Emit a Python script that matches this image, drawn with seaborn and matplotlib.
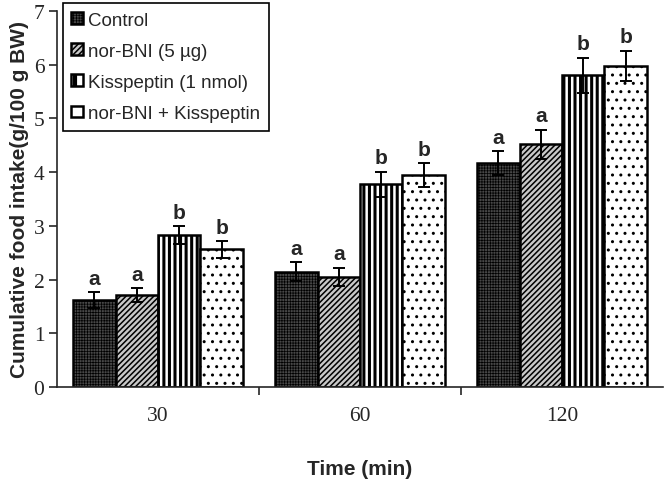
import matplotlib
matplotlib.use("Agg")
import matplotlib.pyplot as plt
import seaborn as sns
import pandas as pd
import numpy as np

times = ["30", "60", "120"]
groups = ["Control", "nor-BNI (5 µg)", "Kisspeptin (1 nmol)", "nor-BNI + Kisspeptin"]
control = [1.62, 2.15, 4.17]
norbni = [1.71, 2.05, 4.52]
kiss = [2.83, 3.77, 5.80]
combo = [2.56, 3.95, 5.98]
err_control = [0.15, 0.18, 0.22]
err_norbni = [0.13, 0.17, 0.27]
err_kiss = [0.17, 0.24, 0.33]
err_combo = [0.16, 0.22, 0.28]
letters_control = ["a", "a", "a"]
letters_norbni = ["a", "a", "a"]
letters_kiss = ["b", "b", "b"]
letters_combo = ["b", "b", "b"]

vals = [control, norbni, kiss, combo]
errs = [err_control, err_norbni, err_kiss, err_combo]
letters = [letters_control, letters_norbni, letters_kiss, letters_combo]

rows = []
for g, v in zip(groups, vals):
    for t, x in zip(times, v):
        rows.append({"Time": t, "Group": g, "Value": x})
df = pd.DataFrame(rows)

sns.set_style("ticks")
plt.rcParams["hatch.linewidth"] = 0.8

fig = plt.figure(figsize=(6.66, 4.81), dpi=100)
ax = fig.add_axes([57/666, 1 - 388/481, 606/666, 376/481])

sns.barplot(data=df, x="Time", y="Value", hue="Group", order=times, hue_order=groups,
            errorbar=None, width=0.84, gap=0, ax=ax, palette=["#404040", "#ffffff", "#ffffff", "#ffffff"],
            edgecolor="black", linewidth=1.8, saturation=1)

styles = [
    dict(face="#474747", hatch="++++++", hc="#6c6c6c", hl=0.5),
    dict(face="#c8c8c8", hatch="//////", hc="#222222", hl=1.1),
    dict(face="#ffffff", hatch="|||", hc="#000000", hl=2.2),
    dict(face="#ffffff", hatch="..", hc="#222222", hl=1.0),
]


def styled(p, st):
    p.set_facecolor(st["face"])
    p.set_hatch(st["hatch"])
    if hasattr(p, "set_hatchcolor"):
        p.set_hatchcolor(st["hc"])
    if hasattr(p, "set_hatch_linewidth"):
        p.set_hatch_linewidth(st["hl"])
    p.set_edgecolor("black")
    orig = p.draw

    def draw(renderer, orig=orig, lw=st["hl"]):
        with plt.rc_context({"hatch.linewidth": lw}):
            orig(renderer)
    p.draw = draw


bar_containers = list(ax.containers)
for ci, cont in enumerate(bar_containers):
    st = styles[ci]
    for j, p in enumerate(cont.patches):
        styled(p, st)
        cx = p.get_x() + p.get_width() / 2
        h = p.get_height()
        e = errs[ci][j]
        ax.errorbar(cx, h, yerr=e, fmt="none", ecolor="black", elinewidth=1.4, capsize=4.5, capthick=1.4, zorder=5)
        ax.text(cx, h + e + 0.08, letters[ci][j], ha="center", va="bottom",
                fontsize=15, fontweight="bold", family="Liberation Sans")

ax.set_ylim(0, 7)
ax.set_xlim(-0.5, 2.5)
ax.set_yticks(range(0, 8))
ax.tick_params(axis="y", labelsize=15.5, length=6, width=1.2, direction="out", pad=3)
ax.tick_params(axis="x", which="major", length=0, labelsize=15.5, pad=14)
ax.set_xticks([0.5, 1.5], minor=True)
ax.tick_params(axis="x", which="minor", length=6, width=1.2, direction="out")
for lab in ax.get_yticklabels() + ax.get_xticklabels():
    lab.set_family("Liberation Serif")

ax.spines["top"].set_visible(False)
ax.spines["right"].set_visible(False)
ax.spines["left"].set_linewidth(1.2)
ax.spines["bottom"].set_linewidth(1.2)

ax.set_xlabel("Time (min)", fontsize=15, fontweight="bold", family="Liberation Sans", labelpad=24)
ax.set_ylabel("Cumulative food intake(g/100 g BW)", fontsize=15, fontweight="bold",
              family="Liberation Sans", labelpad=3)

leg = ax.legend(loc="upper left", bbox_to_anchor=(0.01, 1.02), frameon=True, fancybox=False,
                edgecolor="black", framealpha=1, prop={"family": "Liberation Sans", "size": 13.5},
                handlelength=0.6, handleheight=0.6, handletextpad=0.3, labelspacing=0.75,
                borderpad=0.45, borderaxespad=0)
leg.get_frame().set_linewidth(1.2)
for hi, hnd in enumerate(leg.legend_handles):
    st = dict(styles[hi])
    if hi == 2:
        st["hatch"] = "|"
        st["hl"] = 3.0
    if hi == 3:
        st["hatch"] = ""
    styled(hnd, st)

fig.savefig("out.png", dpi=100)
